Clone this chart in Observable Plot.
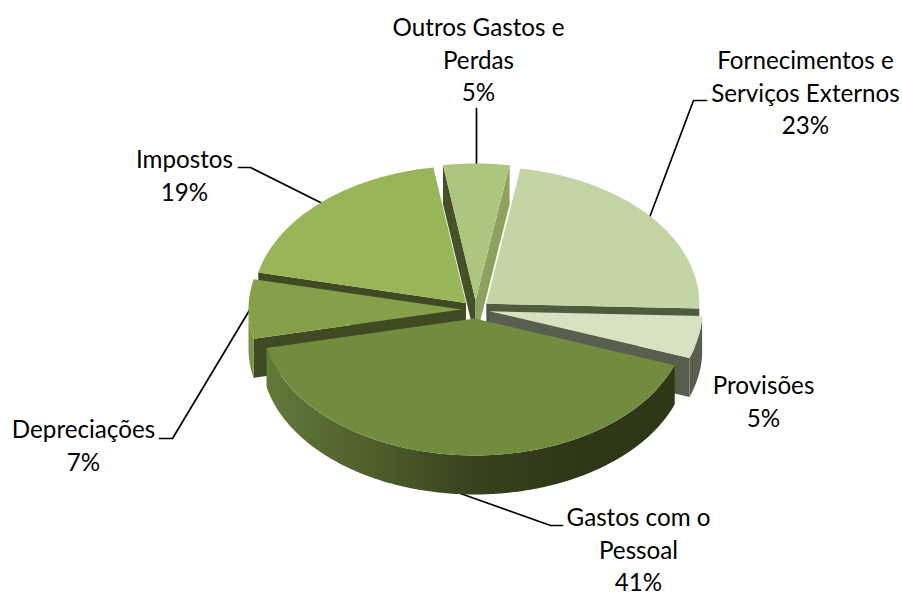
<!DOCTYPE html>
<html>
<head>
<meta charset="utf-8">
<script src="https://cdn.jsdelivr.net/npm/d3@7"></script>
<script src="https://cdn.jsdelivr.net/npm/@observablehq/plot@0.6"></script>
<style>html,body{margin:0;padding:0;background:#fff}svg{display:block}</style>
</head>
<body>
<div id="chart"></div>
<script>
// Data (clockwise, as drawn)
const categories = ["Outros Gastos e\nPerdas", "Fornecimentos e\nServiços Externos", "Provisões", "Gastos com o\nPessoal", "Depreciações", "Impostos"];
const shares = [5, 23, 5, 41, 7, 19];

// Styles, same order as categories
const topColors = ["#adc57e", "#c3d5a5", "#d8e2c3", "#728c3f", "#84a048", "#98b558"];
const startWall = ["#465029", "#505a3f", "#5a5e4f", "#3f4a22", "#3f4a22", "#3f4a22"];
const endWall = ["#8ba35f", "#505a3f", "#5a5e4f", "#2f381a", "#3f4a22", "#3f4a22"];
const rimColors = ["#8ba35f", "#505a3f", "#5a5e4f", "url(#rimGastos)", "#7a9444", "#7a9444"];

// Label placement (first-line baseline) and leader polylines, in frame units
const labelX = [478, 805, 763, 638, 83, 184];
const labelBaseline = [37, 70, 395, 527, 439, 169];
const leaders = [
  [[476, 108], [476, 165]],
  [[649, 217], [693, 100], [706, 100]],
  [],
  [[460, 493], [550, 525], [562, 525]],
  [[250, 308], [172, 438], [159, 438]],
  [[322, 203], [250, 167], [238, 167]]
];

// Pie projection
const center = [475, 309], rx = 213, ry = 137, depth = 39, explodeX = 14, explodeY = 9, firstAngle = -8.8;
const rad = d => d * Math.PI / 180;
const total = d3.sum(shares);
let acc = firstAngle;
const slices = shares.map((v, i) => {
  const t1 = acc, t2 = acc + v / total * 360;
  acc = t2;
  const mid = rad((t1 + t2) / 2);
  return {i, t1, t2, cx: center[0] + explodeX * Math.sin(mid), cy: center[1] - explodeY * Math.cos(mid)};
});
const rim = (s, t) => ({x: s.cx + rx * Math.sin(rad(t)), y: s.cy - ry * Math.cos(rad(t))});
const arc = (s, a, b) => {
  const n = Math.max(2, Math.ceil((b - a) * 2));
  return d3.range(n + 1).map(k => rim(s, a + (b - a) * k / n));
};
const down = p => ({x: p.x, y: p.y + depth});
const polys = [];
const add = (points, fill) => polys.push(Plot.line(points, {x: "x", y: "y", fill, stroke: "none"}));

const drawOrder = [0, 5, 1, 4, 2, 3];
for (const idx of drawOrder) {
  const s = slices[idx];
  const apex = {x: s.cx, y: s.cy};
  if (Math.sin(rad(s.t1)) < 0) {
    const r = rim(s, s.t1);
    add([apex, r, down(r), down(apex)], startWall[idx]);
  }
  if (Math.sin(rad(s.t2)) > 0) {
    const r = rim(s, s.t2);
    add([apex, r, down(r), down(apex)], endWall[idx]);
  }
  const a = Math.max(s.t1, 90), b = Math.min(s.t2, 270);
  if (b > a) {
    const top = arc(s, a, b);
    add([...top, ...top.slice().reverse().map(down)], rimColors[idx]);
  }
  add([apex, ...arc(s, s.t1, s.t2)], topColors[idx]);
}

const defs = () => {
  const d = d3.create("svg:defs");
  const g = d.append("linearGradient").attr("id", "rimGastos").attr("x1", 0).attr("x2", 1).attr("y1", 0).attr("y2", 0);
  [[0, "#627a3a"], [0.25, "#4f5f2c"], [0.5, "#38431d"], [0.75, "#2e3718"], [1, "#2e3718"]]
    .forEach(([o, c]) => g.append("stop").attr("offset", o).attr("stop-color", c));
  return d.node();
};

const fontSize = 24.2;
const labels = categories.map((c, i) => ({
  text: `${c}\n${shares[i]}%`, x: labelX[i], y: labelBaseline[i]
}));

const chart = Plot.plot({
  width: 902, height: 592, margin: 0,
  x: {domain: [0, 902], range: [0, 902], axis: null},
  y: {domain: [0, 592], range: [0, 592], axis: null},
  style: {background: "#fff"},
  marks: [
    defs,
    ...leaders.filter(l => l.length).map(l => Plot.line(l.map(([x, y]) => ({x, y})), {x: "x", y: "y", stroke: "#000", strokeWidth: 1.7})),
    ...polys,
    Plot.text(labels, {
      x: "x", y: "y", text: "text", fontSize, fontFamily: "Lato", fill: "#000",
      lineAnchor: "top", dy: -0.71 * fontSize - 7, lineHeight: 1.34, textAnchor: "middle"
    })
  ]
});
document.getElementById("chart").appendChild(chart);
</script>
</body>
</html>
